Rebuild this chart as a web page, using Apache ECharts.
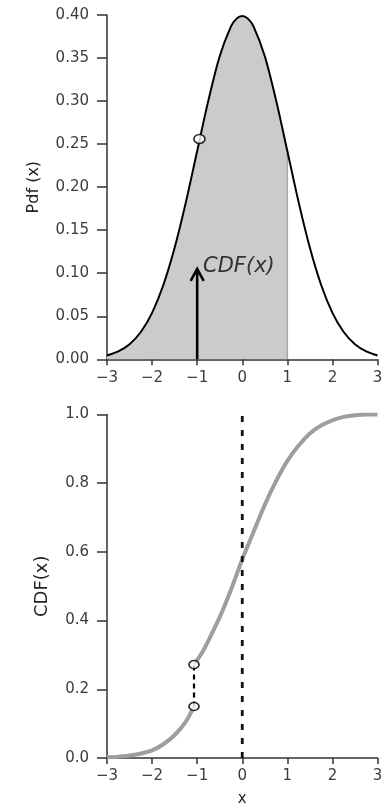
<!DOCTYPE html>
<html><head><meta charset="utf-8">
<script src="https://cdn.jsdelivr.net/npm/echarts@6/dist/echarts.min.js"></script>
<style>html,body{margin:0;padding:0;background:#fff}#c{width:387px;height:804px}</style>
</head><body><div id="c"></div>
<script>
// ---- top panel: probability density ----
const pdfX = [-3,-2.75,-2.5,-2.25,-2,-1.75,-1.5,-1.25,-1,-0.75,-0.5,-0.25,-0.125,0,0.125,0.25,0.5,0.75,1,1.25,1.5,1.75,2,2.25,2.5,2.75,3];
const pdfY = [0.0044,0.0091,0.0175,0.0317,0.054,0.0863,0.1295,0.1826,0.242,0.3011,0.3521,0.3867,0.3958,0.3989,0.3958,0.3867,0.3521,0.3011,0.242,0.1826,0.1295,0.0863,0.054,0.0317,0.0175,0.0091,0.0044];
const fillUpTo = 1;               // shaded area from -3 to this x
const pdfMarker = [-0.95, 0.256]; // open circle on curve
const arrowX = -1, arrowTop = 0.105;
const annotText = 'CDF(x)';
const annotPos = [-0.87, 0.108];
const xTicks = [-3,-2,-1,0,1,2,3];
const pdfYTicks = [0,0.05,0.1,0.15,0.2,0.25,0.3,0.35,0.4];

// ---- bottom panel: cumulative distribution ----
const cdfLowX  = [-3,-2.75,-2.5,-2.25,-2,-1.75,-1.5,-1.25,-1.07];
const cdfLowY  = [0.002,0.004,0.007,0.013,0.022,0.040,0.067,0.106,0.150];
const cdfHighX = [-1.07,-0.9,-0.75,-0.5,-0.25,0,0.25,0.5,0.75,1,1.25,1.5,1.75,2,2.25,2.5,2.75,3];
const cdfHighY = [0.272,0.305,0.342,0.41,0.49,0.578,0.658,0.737,0.806,0.865,0.91,0.945,0.968,0.983,0.993,0.998,1.0,1.0];
const jumpX = -1.07, jumpLow = 0.150, jumpHigh = 0.272;
const refLineX = 0;
const cdfYTicks = [0,0.2,0.4,0.6,0.8,1.0];

const FONT = '"DejaVu Sans", "Liberation Sans", sans-serif';
const zip = (a,b) => a.map((v,i)=>[v,b[i]]);
const minus = v => String(v).replace('-', '\u2212');

function xAxisCfg(gi, extra){
  return Object.assign({
    gridIndex: gi, type:'value', min: xTicks[0], max: xTicks[xTicks.length-1], interval: 1,
    axisLine:{onZero:false, lineStyle:{color:'#333', width:1.5}},
    axisTick:{length:6, lineStyle:{color:'#333', width:1.5}},
    axisLabel:{formatter: v => minus(v), fontSize:15, color:'#3c3c3c', margin:11, fontFamily:FONT},
    splitLine:{show:false}
  }, extra||{});
}
function yAxisCfg(gi, ticks, dec, name, nameSize, gap){
  return {
    gridIndex: gi, type:'value', min: ticks[0], max: ticks[ticks.length-1], interval: ticks[1]-ticks[0],
    name: name, nameLocation:'middle', nameGap: gap,
    nameTextStyle:{fontSize:nameSize, color:'#222', fontFamily:FONT},
    axisLine:{show:true, onZero:false, lineStyle:{color:'#333', width:1.5}},
    axisTick:{show:true, length:10, lineStyle:{color:'#333', width:1.5}},
    axisLabel:{formatter: v => v.toFixed(dec), fontSize:15, color:'#3c3c3c', margin:18, fontFamily:FONT},
    splitLine:{show:false}
  };
}

const pdfData = zip(pdfX, pdfY);
const fillData = pdfData.filter(p => p[0] <= fillUpTo + 1e-9);
const fillEnd = fillData[fillData.length-1];

const chart = echarts.init(document.getElementById('c'), null, {renderer:'canvas'});
chart.setOption({
  animation:false,
  backgroundColor:'#fff',
  grid:[
    {left:107, right:9.5, top:15, height:344.3, containLabel:false, outerBoundsMode:'none'},
    {left:107, right:9.5, top:414.5, height:343.5, containLabel:false, outerBoundsMode:'none'}
  ],
  xAxis:[
    xAxisCfg(0),
    xAxisCfg(1, {name:'x', nameLocation:'middle', nameGap:34, nameTextStyle:{fontSize:15, color:'#222', fontFamily:FONT}})
  ],
  yAxis:[
    yAxisCfg(0, pdfYTicks, 2, 'Pdf (x)', 16, 65),
    yAxisCfg(1, cdfYTicks, 1, 'CDF(x)', 18, 56)
  ],
  series:[
    {type:'line', xAxisIndex:0, yAxisIndex:0, data: fillData, smooth:0.3, showSymbol:false,
     lineStyle:{width:0}, areaStyle:{color:'#cbcbcb', opacity:1}, z:1},
    {type:'line', xAxisIndex:0, yAxisIndex:0, data: [[fillEnd[0],0], fillEnd], showSymbol:false,
     lineStyle:{color:'#a8a8a8', width:1.5}, z:2},
    {type:'line', xAxisIndex:0, yAxisIndex:0, data: pdfData, smooth:0.3, showSymbol:false,
     lineStyle:{color:'#000', width:2}, z:3},
    {type:'custom', xAxisIndex:0, yAxisIndex:0, data:[[arrowX, 0, arrowTop]], z:4,
     renderItem:(params, api) => {
       const b = api.coord([api.value(0), api.value(1)]);
       const t = api.coord([api.value(0), api.value(2)]);
       return {type:'group', children:[
         {type:'line', shape:{x1:b[0], y1:b[1], x2:t[0], y2:t[1]}, style:{stroke:'#000', lineWidth:2.6}},
         {type:'polyline', shape:{points:[[t[0]-6.5,t[1]+12],[t[0],t[1]],[t[0]+6.5,t[1]+12]]},
          style:{stroke:'#000', fill:null, lineWidth:2.6}}
       ]};
     }},
    {type:'custom', xAxisIndex:0, yAxisIndex:0, data:[annotPos], z:5,
     renderItem:(params, api) => {
       const p = api.coord([api.value(0), api.value(1)]);
       return {type:'text', x:p[0], y:p[1], style:{text:annotText, fontSize:21, fontStyle:'italic',
         fontFamily:FONT, fill:'#333', align:'left', verticalAlign:'middle'}};
     }},
    {type:'scatter', xAxisIndex:0, yAxisIndex:0, data:[pdfMarker], symbol:'circle', symbolSize:[11,9],
     itemStyle:{color:'#fff', borderColor:'#000', borderWidth:1.6}, z:6},

    {type:'line', xAxisIndex:1, yAxisIndex:1, data: zip(cdfLowX, cdfLowY), smooth:0.3, showSymbol:false,
     lineStyle:{color:'#9e9e9e', width:4}, z:2},
    {type:'line', xAxisIndex:1, yAxisIndex:1, data: zip(cdfHighX, cdfHighY), smooth:0.3, showSymbol:false,
     lineStyle:{color:'#9e9e9e', width:4}, z:2},
    {type:'line', xAxisIndex:1, yAxisIndex:1, data: [[refLineX, cdfYTicks[0]], [refLineX, cdfYTicks[cdfYTicks.length-1]]],
     showSymbol:false, lineStyle:{color:'#111', width:2.8, type:[6,8]}, z:3},
    {type:'line', xAxisIndex:1, yAxisIndex:1, data: [[jumpX, jumpLow], [jumpX, jumpHigh]],
     showSymbol:false, lineStyle:{color:'#000', width:2.2, type:[5,4]}, z:3},
    {type:'scatter', xAxisIndex:1, yAxisIndex:1, data: [[jumpX, jumpLow], [jumpX, jumpHigh]], symbol:'circle',
     symbolSize:[10,8], itemStyle:{color:'#fff', borderColor:'#000', borderWidth:1.6}, z:6}
  ]
});
</script>
</body></html>
